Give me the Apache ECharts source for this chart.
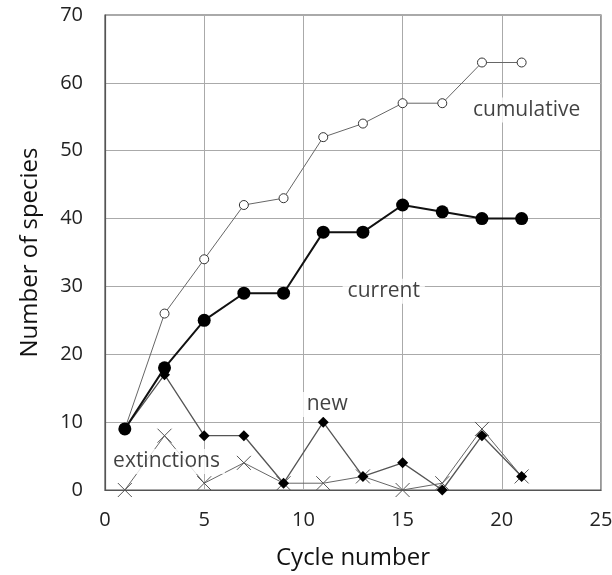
<!DOCTYPE html>
<html><head><meta charset="utf-8">
<script src="https://cdn.jsdelivr.net/npm/echarts@6/dist/echarts.min.js"></script>
<style>html,body{margin:0;padding:0;background:#fff}#c{width:612px;height:575px}</style>
</head><body><div id="c"></div>
<script>
const cycles = [1, 3, 5, 7, 9, 11, 13, 15, 17, 19, 21];
const cumulative = [9, 26, 34, 42, 43, 52, 54, 57, 57, 63, 63];
const current = [9, 18, 25, 29, 29, 38, 38, 42, 41, 40, 40];
const newSp = [9, 17, 8, 8, 1, 10, 2, 4, 0, 8, 2];
const extinctions = [0, 8, 1, 4, 1, 1, 2, 0, 1, 9, 2];
const labels = [
  {name: 'cumulative', x: 21.25, y: 56},
  {name: 'current', x: 14.05, y: 29.3},
  {name: 'new', x: 11.2, y: 12.6},
  {name: 'extinctions', x: 3.1, y: 4.2}
];
const pair = (ys) => cycles.map((x, i) => [x, ys[i]]);
const font = '"Open Sans", "Noto Sans", sans-serif';
const chart = echarts.init(document.getElementById('c'), null, {renderer: 'canvas'});
chart.setOption({
  animation: false,
  grid: {left: 105, right: 11, top: 15, bottom: 85, show: true, borderColor: '#555', borderWidth: 1.2,
         containLabel: false, outerBoundsMode: 'none'},
  xAxis: {
    type: 'value', min: 0, max: 25, interval: 5,
    name: 'Cycle number', nameLocation: 'middle', nameGap: 56,
    nameTextStyle: {fontSize: 24, color: '#111', fontFamily: font},
    axisLine: {show: true, lineStyle: {color: '#555', width: 1.2}},
    axisTick: {show: false},
    axisLabel: {fontSize: 20, color: '#222', margin: 20, fontFamily: font},
    splitLine: {show: true, lineStyle: {color: '#aaa', width: 1}}
  },
  yAxis: {
    type: 'value', min: 0, max: 70, interval: 10,
    name: 'Number of species', nameLocation: 'middle', nameGap: 63,
    nameTextStyle: {fontSize: 24, color: '#111', fontFamily: font},
    axisLine: {show: true, lineStyle: {color: '#555', width: 1.2}},
    axisTick: {show: false},
    axisLabel: {fontSize: 20, color: '#222', margin: 22, fontFamily: font},
    splitLine: {show: true, lineStyle: {color: '#aaa', width: 1}}
  },
  series: [
    {
      type: 'line', name: 'extinctions', data: pair(extinctions), z: 2,
      symbol: 'path://M0,0L10,10M10,0L0,10', symbolSize: 14,
      lineStyle: {color: '#666', width: 1},
      itemStyle: {color: 'none', borderColor: '#555', borderWidth: 1}
    },
    {
      type: 'line', name: 'new', data: pair(newSp), z: 3,
      symbol: 'diamond', symbolSize: 11,
      lineStyle: {color: '#555', width: 1.3},
      itemStyle: {color: '#000'}
    },
    {
      type: 'line', name: 'cumulative', data: pair(cumulative), z: 4,
      symbol: 'circle', symbolSize: 9,
      lineStyle: {color: '#666', width: 1},
      itemStyle: {color: '#fff', borderColor: '#333', borderWidth: 1}
    },
    {
      type: 'line', name: 'current', data: pair(current), z: 5,
      symbol: 'circle', symbolSize: 13,
      lineStyle: {color: '#111', width: 2},
      itemStyle: {color: '#000'}
    },
    {
      type: 'scatter', name: 'labels', z: 6, symbolSize: 0,
      data: labels.map(l => ({value: [l.x, l.y], name: l.name})),
      label: {
        show: true, position: 'inside', formatter: p => p.name,
        fontSize: 21, color: '#111', fontFamily: font,
        backgroundColor: '#fff', padding: [2, 5]
      },
      silent: true
    }
  ]
});
</script></body></html>
